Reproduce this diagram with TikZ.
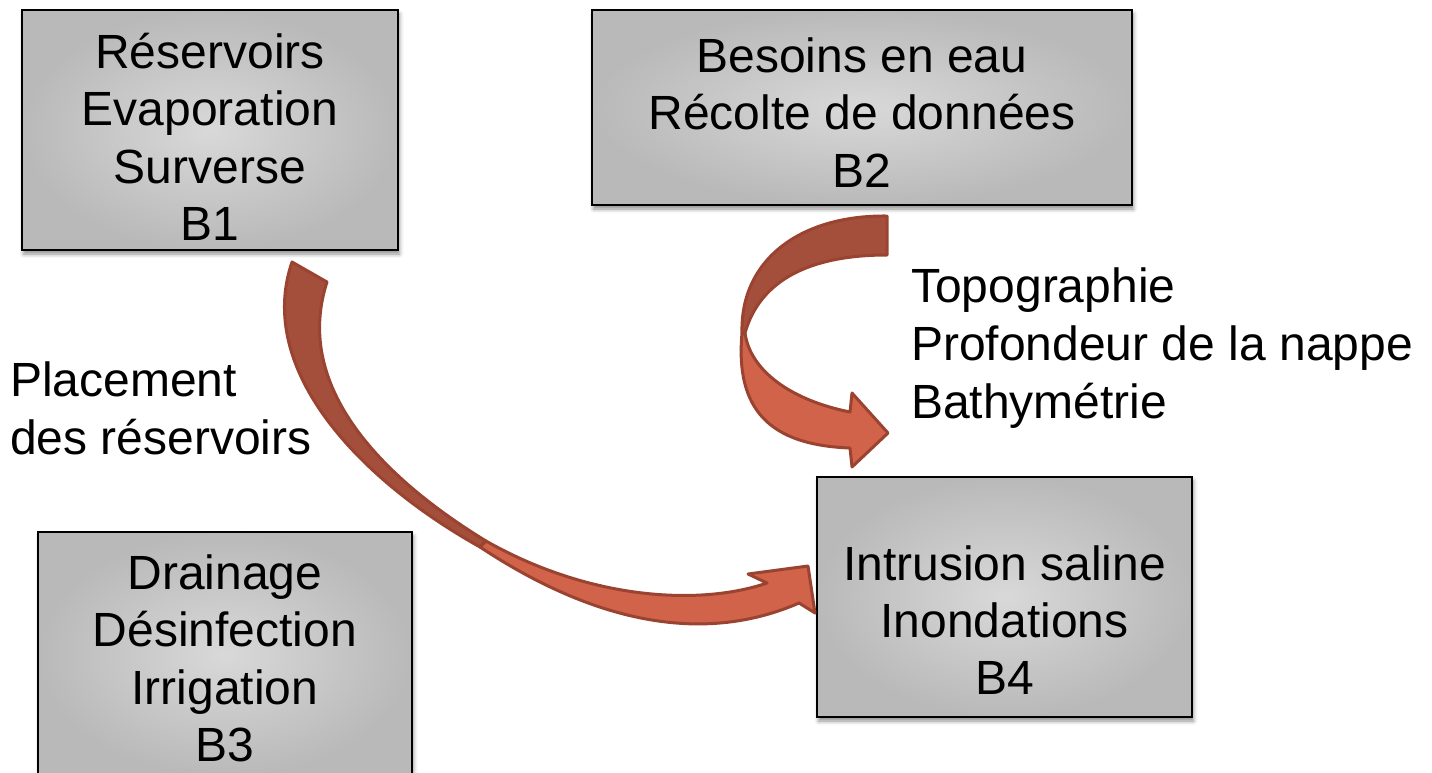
\documentclass[tikz,border=0pt]{standalone}
\usepackage{fontspec}
\setmainfont{Liberation Sans}
\usetikzlibrary{shadows.blur}
\definecolor{ribbondark}{HTML}{A44F3B}
\definecolor{ribbonlight}{HTML}{D0634A}
\definecolor{ribbonedge}{HTML}{9A4330}
\begin{document}
\begin{tikzpicture}[x=1pt, y=-1pt,
  bloc/.style={shape=rectangle, draw=black, line width=2.5pt, inner color=gray!30, outer color=gray!55, blur shadow={shadow xshift=1.5pt, shadow yshift=-4pt, shadow blur radius=4pt, shadow opacity=45}},
  texte/.style={align=center, inner sep=0pt, font=\fontsize{48}{57.4}\selectfont},
  note/.style={anchor=west, align=left, inner sep=0pt, font=\fontsize{48}{57.8}\selectfont},
  dos/.style={fill=ribbondark, draw=ribbonedge, line width=3pt, line join=round},
  face/.style={fill=ribbonlight, draw=ribbonedge, line width=3pt, line join=round}]
\useasboundingbox (0,0) rectangle (1432,772);
\node[bloc, minimum width=376pt, minimum height=240pt] (b1) at (210,130) {};
\node[bloc, minimum width=540pt, minimum height=195pt] (b2) at (862,107.5) {};
\node[bloc, minimum width=374pt, minimum height=245pt] (b3) at (225,654.5) {};
\node[bloc, minimum width=375pt, minimum height=240pt] (b4) at (1004.5,597) {};
\node[texte] (t1) at (210,137) {Réservoirs\\Evaporation\\Surverse\\B1};
\node[texte] (t2) at (862,112.5) {Besoins en eau\\Récolte de données\\B2};
\node[texte] (t3) at (225,658.5) {Drainage\\Désinfection\\Irrigation\\B3};
\node[texte] (t4) at (1004.5,620) {Intrusion saline\\Inondations\\B4};
\node[note] (placement) at (10,408) {Placement\\des réservoirs};
\node[note] (mesures) at (911,348) {Topographie\\Profondeur de la nappe\\Bathymétrie};
\path[dos] (292,262) .. controls (255,370) and (360,480) .. (480,547) -- (486,541) .. controls (370,470) and (295,380) .. (327,282) -- cycle;
\path[face] (480,547) .. controls (560,600) and (680,655) .. (799,603) -- (815,613) -- (808,566) -- (748,574) -- (767,583) .. controls (700,606) and (590,600) .. (486,541) -- cycle;
\path[dos] (887,216) -- (887,255) .. controls (810,255) and (760,280) .. (745,333) -- (742,333) .. controls (740,260) and (800,215) .. (887,216) -- cycle;
\path[face] (742,333) .. controls (735,410) and (770,445) .. (850,448) -- (852,467) -- (888,433) -- (852,393) -- (850,412) .. controls (790,400) and (750,370) .. (745,333) -- cycle;
\end{tikzpicture}
\end{document}
